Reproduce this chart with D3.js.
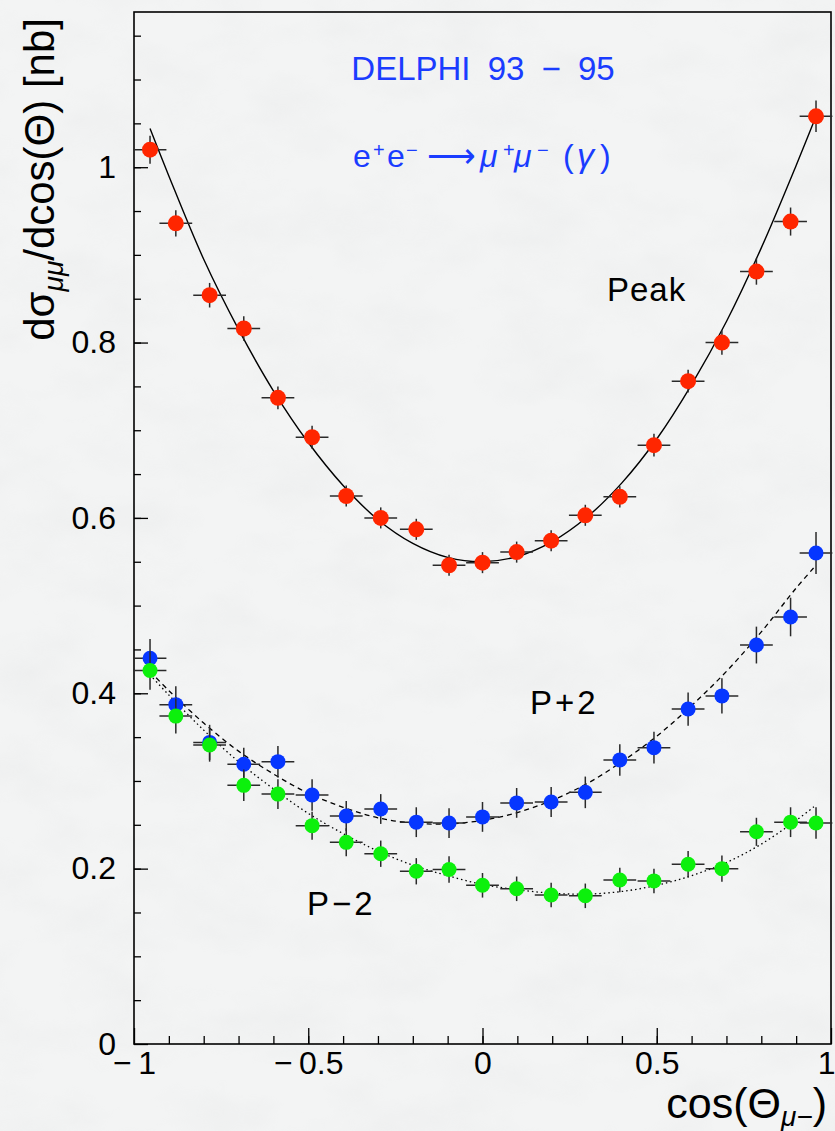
<!DOCTYPE html>
<html>
<head>
<meta charset="utf-8">
<script src="https://cdn.jsdelivr.net/npm/d3@7"></script>
<style>
  html, body { margin: 0; padding: 0; background: #f3f4f4; }
  svg { display: block; }
  text { font-family: "Liberation Sans", Arial, Helvetica, sans-serif; }
</style>
</head>
<body>
<div id="chart"></div>
<script>
// bin centres (cos theta) and half widths
var binX = [-0.954, -0.88, -0.783, -0.685, -0.587, -0.489, -0.391, -0.292, -0.19, -0.096, 0,
            0.098, 0.197, 0.295, 0.394, 0.492, 0.59, 0.687, 0.786, 0.884, 0.957];
var binHalf = 0.047;

// measured points
var peakY = [1.020, 0.936, 0.854, 0.816, 0.737, 0.692, 0.625, 0.600, 0.587, 0.546, 0.549,
             0.561, 0.574, 0.603, 0.624, 0.683, 0.756, 0.800, 0.881, 0.938, 1.058];
var peakErr = [0.016, 0.015, 0.014, 0.014, 0.013, 0.013, 0.012, 0.012, 0.012, 0.012, 0.012,
               0.012, 0.012, 0.012, 0.012, 0.013, 0.013, 0.014, 0.015, 0.016, 0.018];
var p2Y = [0.440, 0.387, 0.344, 0.319, 0.322, 0.284, 0.260, 0.268, 0.253, 0.252, 0.259,
           0.275, 0.276, 0.287, 0.324, 0.338, 0.382, 0.397, 0.455, 0.487, 0.560];
var p2Err = [0.022, 0.021, 0.020, 0.019, 0.018, 0.018, 0.017, 0.017, 0.017, 0.017, 0.017,
             0.017, 0.017, 0.018, 0.018, 0.018, 0.019, 0.020, 0.021, 0.022, 0.024];
var m2Y = [0.426, 0.374, 0.341, 0.295, 0.285, 0.249, 0.230, 0.217, 0.197, 0.199, 0.181,
           0.177, 0.170, 0.169, 0.187, 0.186, 0.205, 0.200, 0.242, 0.253, 0.252];
var m2Err = [0.022, 0.020, 0.019, 0.018, 0.017, 0.016, 0.016, 0.015, 0.015, 0.015, 0.014,
             0.014, 0.014, 0.014, 0.014, 0.014, 0.015, 0.015, 0.016, 0.017, 0.018];

var fitX = [-0.954, -0.9, -0.8, -0.7, -0.6, -0.5, -0.4, -0.3, -0.2, -0.1, 0,
            0.1, 0.2, 0.3, 0.4, 0.5, 0.6, 0.7, 0.8, 0.9, 0.957];
var peakFit = [1.044, 0.990, 0.895, 0.815, 0.745, 0.686, 0.637, 0.598, 0.571, 0.555, 0.550,
               0.556, 0.573, 0.601, 0.640, 0.690, 0.752, 0.824, 0.908, 1.002, 1.058];
var p2Fit = [0.425, 0.403, 0.366, 0.334, 0.308, 0.286, 0.270, 0.258, 0.252, 0.251, 0.255,
             0.264, 0.278, 0.297, 0.322, 0.351, 0.386, 0.425, 0.470, 0.520, 0.546];
var m2Fit = [0.421, 0.398, 0.358, 0.322, 0.291, 0.263, 0.240, 0.220, 0.204, 0.192, 0.182,
             0.176, 0.172, 0.171, 0.174, 0.181, 0.192, 0.207, 0.228, 0.255, 0.2725];

var xTicks = [-1, -0.5, 0, 0.5, 1];
var yTicks = [0, 0.2, 0.4, 0.6, 0.8, 1];

var width = 835, height = 1131;
var plotLeft = 134, plotRight = 831, plotTop = 12, plotBottom = 1044;

var svg = d3.select('#chart').append('svg')
  .attr('width', width)
  .attr('height', height);

// marbled paper background
var defs = svg.append('defs');
var f = defs.append('filter').attr('id', 'marble')
  .attr('x', 0).attr('y', 0).attr('width', '100%').attr('height', '100%');
f.append('feTurbulence').attr('type', 'fractalNoise')
  .attr('baseFrequency', '0.012 0.02').attr('numOctaves', 4).attr('seed', 7);
f.append('feColorMatrix').attr('type', 'matrix')
  .attr('values', '0 0 0 0 0.55  0 0 0 0 0.56  0 0 0 0 0.57  -1.6 0 0 0 0.95');
svg.append('rect').attr('width', width).attr('height', height).attr('fill', '#f3f4f4');
svg.append('rect').attr('width', width).attr('height', height)
  .attr('filter', 'url(#marble)').attr('opacity', 0.12);

var x = d3.scaleLinear().domain([-1, 1]).range([plotLeft, plotRight]);
var y = d3.scaleLinear().domain([0, 1.177]).range([plotBottom, plotTop]);

var fmt = function(d) { return d < 0 ? '\u2212\u2009' + Math.abs(d) : String(d); };

// minor ticks
svg.append('g')
  .attr('transform', 'translate(0,' + plotBottom + ')')
  .call(d3.axisBottom(x).tickValues(d3.range(-9, 10).map(function(i) { return i / 10; }))
    .tickSize(-8).tickFormat(''))
  .call(function(g) { g.select('.domain').remove(); });
svg.append('g')
  .attr('transform', 'translate(' + plotLeft + ',0)')
  .call(d3.axisLeft(y).tickValues(d3.range(1, 24).map(function(i) { return i * 0.05; }))
    .tickSize(-7).tickFormat(''))
  .call(function(g) { g.select('.domain').remove(); });

// major ticks with labels
var xAxis = svg.append('g')
  .attr('transform', 'translate(0,' + plotBottom + ')')
  .call(d3.axisBottom(x).tickValues(xTicks).tickSize(-16).tickPadding(6).tickFormat(fmt));
xAxis.select('.domain').remove();
xAxis.selectAll('text').attr('font-size', 32).attr('fill', '#000')
  .attr('font-family', '"Liberation Sans", Arial, sans-serif').attr('dy', '0.76em');
// the last label sits against the right edge of the page
xAxis.selectAll('.tick').filter(function(d) { return d === 1; }).select('text')
  .attr('text-anchor', 'end').attr('x', 4);

var yAxis = svg.append('g')
  .attr('transform', 'translate(' + plotLeft + ',0)')
  .call(d3.axisLeft(y).tickValues(yTicks).tickSize(-14).tickPadding(18).tickFormat(fmt));
yAxis.select('.domain').remove();
yAxis.selectAll('text').attr('font-size', 32).attr('fill', '#000')
  .attr('font-family', '"Liberation Sans", Arial, sans-serif');

svg.selectAll('.tick line').attr('stroke', '#000').attr('stroke-width', 1.3);

// frame
svg.append('rect')
  .attr('x', plotLeft).attr('y', plotTop)
  .attr('width', plotRight - plotLeft).attr('height', plotBottom - plotTop)
  .attr('fill', 'none').attr('stroke', '#000').attr('stroke-width', 1.6);

// fit curves
var line = function(ys) {
  return d3.line()
    .x(function(d, i) { return x(fitX[i]); })
    .y(function(d) { return y(d); })
    .curve(d3.curveCatmullRom)(ys);
};
svg.append('path').attr('d', line(peakFit)).attr('fill', 'none')
  .attr('stroke', '#000').attr('stroke-width', 1.4);
svg.append('path').attr('d', line(p2Fit)).attr('fill', 'none')
  .attr('stroke', '#000').attr('stroke-width', 1.3).attr('stroke-dasharray', '5,4');
svg.append('path').attr('d', line(m2Fit)).attr('fill', 'none')
  .attr('stroke', '#000').attr('stroke-width', 1.3).attr('stroke-dasharray', '1.5,3');

// points with error bars
function series(vals, errs, colour, r) {
  var g = svg.append('g');
  var pts = vals.map(function(v, i) { return { x: binX[i], y: v, e: errs[i] }; });
  g.selectAll('line.h').data(pts).enter().append('line')
    .attr('x1', function(d) { return x(d.x - binHalf); })
    .attr('x2', function(d) { return x(d.x + binHalf); })
    .attr('y1', function(d) { return y(d.y); })
    .attr('y2', function(d) { return y(d.y); })
    .attr('stroke', '#2a2a2a').attr('stroke-width', 1.5);
  g.selectAll('line.v').data(pts).enter().append('line')
    .attr('x1', function(d) { return x(d.x); })
    .attr('x2', function(d) { return x(d.x); })
    .attr('y1', function(d) { return y(d.y - d.e); })
    .attr('y2', function(d) { return y(d.y + d.e); })
    .attr('stroke', '#2a2a2a').attr('stroke-width', 1.5);
  g.selectAll('circle').data(pts).enter().append('circle')
    .attr('cx', function(d) { return x(d.x); })
    .attr('cy', function(d) { return y(d.y); })
    .attr('r', r)
    .attr('fill', colour);
}
series(peakY, peakErr, '#ff2600', 8);
series(p2Y, p2Err, '#0636ff', 7.5);
series(m2Y, m2Err, '#0cf00c', 7.5);

// labels
var blue = '#1a3cff';
svg.append('text').attr('x', 483).attr('y', 80).attr('text-anchor', 'middle')
  .attr('font-size', 33).attr('word-spacing', 8).attr('fill', blue)
  .text('DELPHI 93 \u2212 95');

// reaction, placed piece by piece
var react = svg.append('g').attr('fill', blue).attr('font-size', 32);
function piece(px, txt, opts) {
  var t = react.append('text').attr('x', px).attr('y', 167).text(txt);
  if (opts && opts.sup) t.attr('y', 157).attr('font-size', 20);
  if (opts && opts.it) t.attr('font-style', 'italic');
  if (opts && opts.fam) t.attr('font-family', opts.fam);
  return t;
}
piece(353, 'e');
piece(373, '+', { sup: true });
piece(387, 'e');
piece(406, '\u2212', { sup: true });
piece(427, '\u27F6', { fam: '"DejaVu Sans", sans-serif' }).attr('font-size', 34);
piece(480, '\u03BC', { it: true });
piece(503, '+', { sup: true });
piece(514, '\u03BC', { it: true });
piece(537, '\u2212', { sup: true });
piece(563, '(');
piece(577, '\u03B3', { it: true }).attr('font-size', 34);
piece(600, ')');

svg.append('text').attr('x', 607).attr('y', 301).attr('font-size', 33).attr('letter-spacing', 1).text('Peak');
svg.append('text').attr('x', 530).attr('y', 714).attr('font-size', 33).attr('letter-spacing', 3).text('P+2');
svg.append('text').attr('x', 307).attr('y', 915).attr('font-size', 33).attr('letter-spacing', 3).text('P\u22122');

// axis titles
var xt = svg.append('text').attr('x', 827).attr('y', 1118).attr('text-anchor', 'end')
  .attr('font-size', 43);
xt.append('tspan').text('cos(\u0398');
xt.append('tspan').attr('dy', 8).attr('font-size', 28).attr('font-style', 'italic').text('\u03BC\u2212');
xt.append('tspan').attr('dy', -8).text(')');

var yt = svg.append('text').attr('transform', 'translate(54,18) rotate(-90)')
  .attr('text-anchor', 'end').attr('font-size', 42);
yt.append('tspan').text('d\u03C3');
yt.append('tspan').attr('dy', 9).attr('font-size', 28).attr('font-style', 'italic').text('\u03BC\u03BC');
yt.append('tspan').attr('dy', -9).text('/dcos(\u0398) [nb]');
</script>
</body>
</html>
